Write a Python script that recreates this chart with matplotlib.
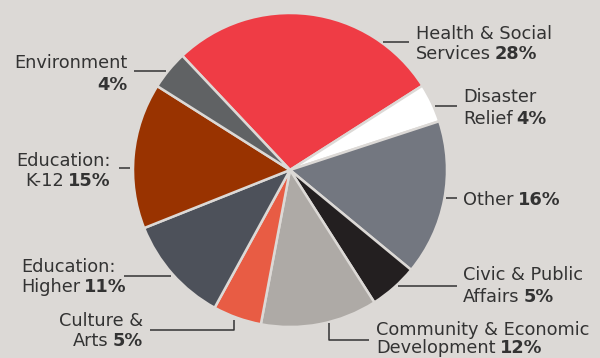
import matplotlib
matplotlib.use("Agg")
import matplotlib.pyplot as plt

# giving by cause, clockwise from the top
causes = ["Health & Social Services", "Disaster Relief", "Other",
          "Civic & Public Affairs", "Community & Economic Development",
          "Culture & Arts", "Education: Higher", "Education: K-12",
          "Environment"]
shares = [28, 4, 16, 5, 12, 5, 11, 15, 4]
colors = ["#ef3c45", "#ffffff", "#737780", "#231f20", "#aeaaa6",
          "#e85c44", "#4d515a", "#993300", "#606264"]

BG = "#dcd9d6"
INK = "#333333"
FONT = 12.8

fig = plt.figure(figsize=(6, 3.58), dpi=100, facecolor=BG)
ax = fig.add_axes([0, 0, 1, 1])
ax.set_facecolor(BG)

# y axis runs downward, so counterclock=True draws clockwise on screen
ax.pie(shares, colors=colors, center=(290, 170), radius=157,
       startangle=-133.3, counterclock=True, frame=True,
       wedgeprops=dict(edgecolor=BG, linewidth=1.8))
ax.set_xlim(0, 600)
ax.set_ylim(358, 0)
ax.set_aspect("equal")
ax.axis("off")

renderer = fig.canvas.get_renderer()


def line(x, y, plain, bold, ha="left"):
    """one text line: regular words followed by a bold figure"""
    kw = dict(fontsize=FONT, color=INK, va="baseline")
    if ha == "left":
        t = ax.text(x, y, plain, ha="left", **kw) if plain else None
        if bold:
            x1 = x
            if t is not None:
                bb = t.get_window_extent(renderer)
                x1 = bb.x1 + 4
            ax.text(x1, y, bold, ha="left", fontweight="bold", **kw)
    else:
        x0 = x
        if bold:
            b = ax.text(x, y, bold, ha="right", fontweight="bold", **kw)
            bb = b.get_window_extent(renderer)
            x0 = bb.x0 - 4
        if plain:
            ax.text(x0, y, plain, ha="right", **kw)


def leader(xs, ys):
    ax.plot(xs, ys, color=INK, lw=1.1, solid_capstyle="butt")


pct = ["%d%%" % s for s in shares]

# right-hand side
line(416, 39, "Health & Social", None)
line(416, 59, "Services", pct[0])
leader([383, 409], [42, 42])

line(463, 102, "Disaster", None)
line(463, 124, "Relief", pct[1])
leader([435, 457], [106, 106])

line(463, 205, "Other", pct[2])
leader([446, 457], [198, 198])

line(463, 280, "Civic & Public", None)
line(463, 302, "Affairs", pct[3])
leader([398, 457], [286, 286])

line(376, 335, "Community & Economic", None)
line(376, 353, "Development", pct[4])
leader([329, 329, 369], [323, 340, 340])

# left-hand side
line(143, 326, "Culture &", None, ha="right")
line(143, 346, "Arts", pct[5], ha="right")
leader([150, 234, 234], [330, 330, 320])

line(21, 272, "Education:", None)
line(21, 292, "Higher", pct[6])
leader([124, 171], [276, 276])

line(111, 166, "Education:", None, ha="right")
line(111, 186, "K-12", pct[7], ha="right")
leader([119, 130], [168, 168])

line(128, 68, "Environment", None, ha="right")
line(128, 90, None, pct[8], ha="right")
leader([134, 166], [71, 71])

fig.savefig("out.png", dpi=100, facecolor=BG)
